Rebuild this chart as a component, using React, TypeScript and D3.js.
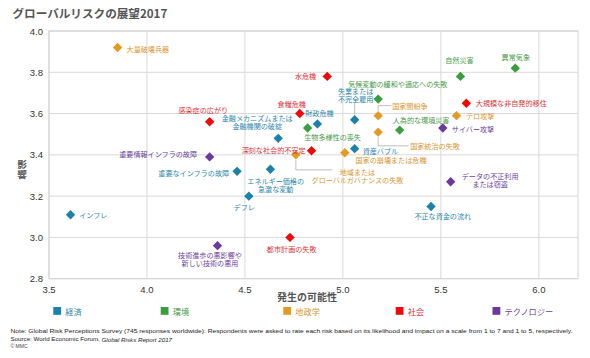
import React from 'react';
import * as d3 from 'd3';

const categoryNames = ['経済', '環境', '地政学', '社会', 'テクノロジー'];

const riskNames = [
  '大量破壊兵器',
  '水危機',
  '自然災害',
  '異常気象',
  '気候変動の緩和や適応への失敗',
  '大規模な非自発的移住',
  '食糧危機',
  '財政危機',
  '生物多様性の喪失',
  '失業または\n不完全雇用',
  '国家間紛争',
  '人為的な環境災害',
  'テロ攻撃',
  'サイバー攻撃',
  '国家統治の失敗',
  '感染症の広がり',
  '金融メカニズムまたは\n金融機関の破綻',
  '深刻な社会的不安定',
  '地域または\nグローバルガバナンスの失敗',
  '国家の崩壊または危機',
  '資産バブル',
  '重要情報インフラの故障',
  '重要なインフラの故障',
  'エネルギー価格の\n急激な変動',
  'デフレ',
  'インフレ',
  'データの不正利用\nまたは窃盗',
  '不正な資金の流れ',
  '技術進歩の悪影響や\n新しい技術の悪用',
  '都市計画の失敗',
];

// index into categoryNames
const riskCategory = [2, 3, 1, 1, 1, 3, 3, 0, 1, 0, 2, 1, 2, 4, 2, 3, 0, 3, 2, 2, 0, 4, 0, 0, 0, 0, 4, 0, 4, 3];

const likelihood = [3.85, 4.92, 5.60, 5.88, 5.18, 5.63, 4.78, 4.87, 4.82, 5.06, 5.18, 5.29, 5.58, 5.51, 5.18, 4.32, 4.67, 4.84, 4.76, 5.01, 5.06, 4.32, 4.46, 4.63, 4.52, 3.61, 5.55, 5.45, 4.36, 4.73];
const impact = [3.92, 3.78, 3.78, 3.82, 3.67, 3.65, 3.60, 3.55, 3.53, 3.57, 3.59, 3.52, 3.59, 3.53, 3.51, 3.56, 3.48, 3.42, 3.40, 3.41, 3.43, 3.39, 3.32, 3.33, 3.20, 3.11, 3.27, 3.15, 2.96, 3.00];

const xTicks = [3.5, 4.0, 4.5, 5.0, 5.5, 6.0];
const yTicks = [2.8, 3.0, 3.2, 3.4, 3.6, 3.8, 4.0];

const title = 'グローバルリスクの展望2017';
const xTitle = '発生の可能性';
const yTitle = '影響';
const note1 = 'Note: Global Risk Perceptions Survey (745 responses worldwide): Respondents were asked to rate each risk based on its likelihood and impact on a scale from 1 to 7 and 1 to 5, respectively.';
const note2a = 'Source: World Economic Forum, ';
const note2b = 'Global Risks Report 2017';
const note3 = '© MMC';

// styling
const markerColors = ['#1a82a8', '#3c9c40', '#e29a22', '#ee0a0a', '#6b3a9c'];
const labelColors = ['#2f87aa', '#4a9a4a', '#d99530', '#d8333a', '#6b3f9a'];

// label placement (pixel offsets from the marker)
type Lay = { dx: number; dy: number; anchor: string; leader?: [number, number][] };
const labelLayout: Lay[] = [
  { dx: 9, dy: 1, anchor: 'start' },
  { dx: -11, dy: -0.5, anchor: 'end' },
  { dx: -1, dy: -16, anchor: 'middle' },
  { dx: 0.5, dy: -11.5, anchor: 'middle' },
  { dx: -30, dy: -15.3, anchor: 'start' },
  { dx: 9.5, dy: 0, anchor: 'start' },
  { dx: -8, dy: -10, anchor: 'middle' },
  { dx: 2, dy: -10.6, anchor: 'middle' },
  { dx: -3.4, dy: 9, anchor: 'start' },
  { dx: 1, dy: -28.6, anchor: 'middle', leader: [[0, -5], [0, -17.5]] },
  { dx: 14, dy: -10, anchor: 'start', leader: [[0, -5], [0, -10], [13, -10]] },
  { dx: -7, dy: -10.3, anchor: 'start' },
  { dx: 9.5, dy: 0, anchor: 'start' },
  { dx: 9, dy: 1.3, anchor: 'start' },
  { dx: 32, dy: 13.7, anchor: 'start', leader: [[0, 5], [0, 13.7], [30.5, 13.7]] },
  { dx: -6.4, dy: -12, anchor: 'middle' },
  { dx: -21, dy: -20.2, anchor: 'middle' },
  { dx: -6, dy: -1, anchor: 'end' },
  { dx: 61.6, dy: 16.8, anchor: 'middle', leader: [[0, 5], [0, 15], [36.6, 15]] },
  { dx: 10.7, dy: 7.4, anchor: 'start' },
  { dx: 8, dy: 2.6, anchor: 'start' },
  { dx: -12.6, dy: -2.7, anchor: 'end' },
  { dx: -8, dy: 1.6, anchor: 'end' },
  { dx: 5.3, dy: 11.8, anchor: 'middle' },
  { dx: -4.6, dy: 10.7, anchor: 'middle' },
  { dx: 8.7, dy: 0.6, anchor: 'start' },
  { dx: 39.5, dy: -5.4, anchor: 'middle' },
  { dx: 11.7, dy: 9.4, anchor: 'middle' },
  { dx: -7.5, dy: 9.5, anchor: 'middle' },
  { dx: 1.7, dy: 11.7, anchor: 'middle' },
];

const legendX = [53.3, 160.7, 283.3, 395.7, 492.5];

const FONT = '"Noto Sans CJK JP", "Noto Sans", sans-serif';
const LATIN = '"Liberation Sans", Arial, sans-serif';

export default function App() {
  const width = 590;
  const height = 358;
  const x = d3.scaleLinear().domain([3.5, 6.2]).range([49, 578]);
  const y = d3.scaleLinear().domain([2.8, 4.0]).range([278.7, 31]);
  const line = d3.line();
  const r = 4.7;
  const diamond = `M0,${-r}L${r},0L0,${r}L${-r},0Z`;
  const lineGap = 8.1;

  return (
    <svg
      width={width}
      height={height}
      style={{ position: 'absolute', left: 0, top: 0, background: '#fff' }}
      fontFamily={FONT}
    >
      <rect x={0} y={0} width={width} height={height} fill="#fff" />
      <text x={12.5} y={12.5} fontSize={11.6} fontWeight="bold" fill="#555" dominantBaseline="central">
        {title}
      </text>

      {/* grid */}
      {xTicks.map((t) => (
        <line key={'gx' + t} x1={x(t)} x2={x(t)} y1={y(4.0)} y2={y(2.8)} stroke="#d9d9d9" strokeWidth={1} />
      ))}
      {yTicks.map((t) => (
        <line key={'gy' + t} x1={x(3.5)} x2={x(6.2)} y1={y(t)} y2={y(t)} stroke="#d9d9d9" strokeWidth={1} />
      ))}
      <rect x={x(3.5)} y={y(4.0)} width={x(6.2) - x(3.5)} height={y(2.8) - y(4.0)} fill="none" stroke="#d4d4d4" />

      {/* tick labels */}
      {yTicks.map((t) => (
        <text key={'ty' + t} x={43} y={y(t)} fontSize={9.5} fill="#333" textAnchor="end" dominantBaseline="central" fontFamily={LATIN}>
          {d3.format('.1f')(t)}
        </text>
      ))}
      {xTicks.map((t) => (
        <text key={'tx' + t} x={x(t)} y={289.5} fontSize={9.5} fill="#333" textAnchor="middle" dominantBaseline="central" fontFamily={LATIN}>
          {d3.format('.1f')(t)}
        </text>
      ))}

      {/* axis titles */}
      <text x={307} y={296} fontSize={10} fontWeight="bold" fill="#555" textAnchor="middle" dominantBaseline="central">
        {xTitle}
      </text>
      <text
        x={22}
        y={169.5}
        fontSize={9.6}
        fontWeight="bold"
        fill="#555"
        textAnchor="middle"
        style={{ writingMode: 'vertical-rl' as any }}
      >
        {yTitle}
      </text>

      {/* leader lines */}
      {riskNames.map((n, i) => {
        const L = labelLayout[i];
        if (!L.leader) return null;
        const px = x(likelihood[i]);
        const py = y(impact[i]);
        return (
          <path
            key={'ld' + i}
            d={line(L.leader.map(([a, b]) => [px + a, py + b]) as [number, number][]) || ''}
            fill="none"
            stroke="#b0b0b0"
            strokeWidth={0.8}
          />
        );
      })}

      {/* markers */}
      {riskNames.map((n, i) => (
        <path
          key={'m' + i}
          d={diamond}
          transform={`translate(${x(likelihood[i])},${y(impact[i])})`}
          fill={markerColors[riskCategory[i]]}
        />
      ))}

      {/* labels */}
      {riskNames.map((n, i) => {
        const L = labelLayout[i];
        const px = x(likelihood[i]);
        const py = y(impact[i]);
        const lines = n.split('\n');
        return (
          <text
            key={'l' + i}
            fontSize={7.1}
            fill={labelColors[riskCategory[i]]}
            textAnchor={L.anchor as any}
            dominantBaseline="central"
          >
            {lines.map((s, k) => (
              <tspan key={k} x={px + L.dx} y={py + L.dy + k * lineGap}>
                {s}
              </tspan>
            ))}
          </text>
        );
      })}

      {/* legend */}
      {categoryNames.map((c, i) => (
        <g key={'lg' + i}>
          <rect x={legendX[i]} y={307} width={7.8} height={7.8} fill={markerColors[i]} />
          <text x={legendX[i] + 12} y={311} fontSize={8.2} fill={labelColors[i]} dominantBaseline="central">
            {c}
          </text>
        </g>
      ))}

      {/* notes */}
      <text x={10.5} y={330} fontSize={6.2} fill="#222" fontFamily={LATIN} dominantBaseline="central" textLength={562} lengthAdjust="spacingAndGlyphs">
        {note1}
      </text>
      <text x={10.5} y={338.5} fontSize={6.2} fill="#222" fontFamily={LATIN} dominantBaseline="central">
        {note2a}
        <tspan fontStyle="italic">{note2b}</tspan>
      </text>
      <text x={10.5} y={346} fontSize={5} fill="#444" fontFamily={LATIN} dominantBaseline="central">
        {note3}
      </text>
    </svg>
  );
}
